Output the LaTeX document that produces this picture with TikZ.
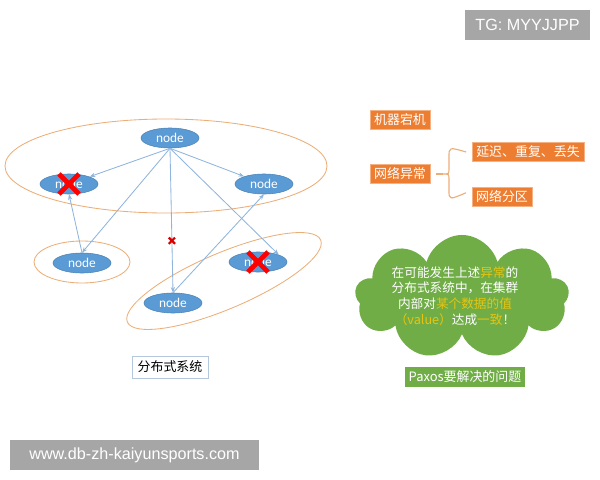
\documentclass[tikz,border=0pt]{standalone}
\usepackage{fontspec}
\setmainfont{Noto Sans CJK SC}
\newfontfamily\latinsf{Carlito}
\newfontfamily\markfont{Liberation Sans}
\usetikzlibrary{shapes.geometric,shapes.misc,shapes.symbols,arrows.meta}
\definecolor{nodeblue}{HTML}{5B9BD5}
\definecolor{edgeblue}{HTML}{8FB4DE}
\definecolor{ringorange}{HTML}{EBAE78}
\definecolor{boxorange}{HTML}{ED7D31}
\definecolor{cloudgreen}{HTML}{70AD47}
\definecolor{hiyellow}{HTML}{E8C410}
\definecolor{markgray}{HTML}{A6A6A6}
\definecolor{frameblue}{HTML}{B4C7DC}
\tikzset{
  bluenode/.style={ellipse, fill=nodeblue, draw=nodeblue!85!black, line width=0.4pt,
    text=white, minimum width=1.45cm, minimum height=0.5cm, inner sep=0pt,
    font=\latinsf\fontsize{9.5}{11}\selectfont},
  link/.style={draw=edgeblue, line width=0.6pt, -{Stealth[length=4pt,width=3pt]}},
  ring/.style={draw=ringorange, line width=0.6pt},
  bigcross/.style={cross out, draw=red, line width=3.5pt, minimum size=0.38cm, inner sep=0pt},
  smallcross/.style={cross out, draw=red!85!black, line width=1.6pt, minimum size=0.1cm, inner sep=0pt},
  orangebox/.style={fill=boxorange, draw=boxorange!60!white, text=white, inner xsep=3pt,
    inner ysep=0pt, minimum height=0.475cm, font=\fontsize{9.2}{11}\selectfont},
  markbox/.style={fill=markgray, text=white, inner sep=0pt, font=\markfont\fontsize{11.5}{13}\selectfont}
}
\begin{document}
\begin{tikzpicture}[x=0.025cm,y=-0.025cm]
\useasboundingbox (0,0) rectangle (600,480);

% groups
\draw[ring] (166,166) ellipse [x radius=161, y radius=47];
\draw[ring] (82,262) ellipse [x radius=48, y radius=21];
\draw[ring, rotate around={23:(224,281)}] (224,281) ellipse [x radius=105, y radius=28];

% nodes
\node[bluenode] (ntop) at (170,138) {node};
\node[bluenode] (nleft) at (69,184) {node};
\node[bluenode] (nright) at (264,184) {node};
\node[bluenode] (nlow) at (82,263) {node};
\node[bluenode] (nlost) at (258,262) {node};
\node[bluenode] (nbottom) at (173,303) {node};

\draw[link] (ntop.south) -- (nleft);
\draw[link] (ntop.south) -- (nright);
\draw[link] (ntop.south) -- (nlow.north);
\draw[link] (ntop.south) -- (nbottom.north) node[pos=0.64, smallcross] (lost) {};
\draw[link] (ntop.south) -- (nlost.north east);
\draw[link] (nlow.north) -- (nleft.south);
\draw[link] (nbottom.north) -- (nright.south);

\node[bigcross] (xleft) at (nleft) {};
\node[bigcross] (xlost) at (nlost) {};

\node[draw=frameblue, fill=white, inner xsep=4pt, inner ysep=0pt, minimum height=0.55cm,
  font=\fontsize{9.2}{11}\selectfont] (system) at (170,367) {分布式系统};

% failures
\node[orangebox] (crash) at (400,120) {机器宕机};
\node[orangebox] (network) at (400,174) {网络异常};
\node[orangebox] (delay) at (528,152) {延迟、重复、丢失};
\node[orangebox] (split) at (502,197) {网络分区};
\coordinate (tip) at (443,174);
\draw[ringorange, line width=0.8pt] ([xshift=4pt]network.east) -- (tip);
\draw[ringorange, line width=0.8pt] ([xshift=-4pt]delay.west) .. controls (449,147) .. (449,157)
  -- (449,168) .. controls (449,174) .. (tip) .. controls (449,174) .. (449,180)
  -- (449,190) .. controls (449,200) .. ([xshift=-4pt,yshift=3pt]split.west);

% goal
\node[cloud, cloud puffs=9, aspect=2, fill=cloudgreen, draw=none,
  minimum width=5.35cm, minimum height=3.1cm] (cloud) at (462,297) {};
\node[text=white, align=center, font=\fontsize{9}{11.1}\selectfont] (goal) at (455,296)
  {在可能发生上述\textcolor{hiyellow}{异常}的\\
   分布式系统中，在集群\\
   内部对\textcolor{hiyellow}{某个数据的值}\\
   \textcolor{hiyellow}{（value）}达成\textcolor{hiyellow}{一致}！};
\node[fill=cloudgreen, draw=white, text=white, inner xsep=3pt, inner ysep=0pt,
  minimum height=0.525cm, font=\fontsize{9.2}{11}\selectfont] (paxos) at (465,377) {Paxos要解决的问题};

% marks
\node[markbox, minimum width=3.125cm, minimum height=0.75cm] (tg) at (527.5,25) {TG: MYYJJPP};
\node[markbox, minimum width=6.225cm, minimum height=0.75cm] (site) at (134.5,455) {www.db-zh-kaiyunsports.com};
\end{tikzpicture}
\end{document}
